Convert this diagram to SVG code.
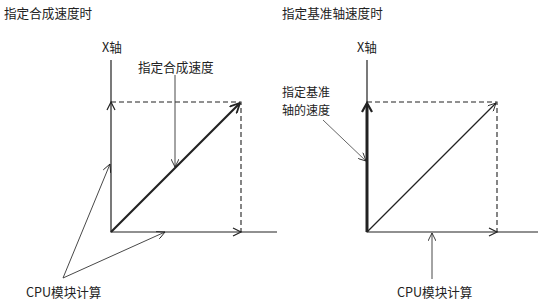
<svg xmlns="http://www.w3.org/2000/svg" width="541" height="308" viewBox="0 0 541 308">
<style>
text{font-family:"Noto Sans CJK SC","Noto Sans CJK JP",sans-serif;font-size:12.6px;fill:#222}
.sm{font-size:12px}
.ax{stroke:#222;stroke-width:1.2;fill:none}
.dash{stroke:#222;stroke-width:1.1;fill:none;stroke-dasharray:5,3}
.thin{stroke:#333;stroke-width:0.9;fill:none}
</style>
<defs>
<marker id="arr" viewBox="0 0 10 10" refX="10" refY="5" markerWidth="9" markerHeight="8" markerUnits="userSpaceOnUse" orient="auto">
<path d="M0,0 L10,5 L0,10" fill="none" stroke="#222" stroke-width="1.1"/>
</marker>
<marker id="arrT" viewBox="0 0 10 10" refX="10" refY="5" markerWidth="11" markerHeight="10" markerUnits="userSpaceOnUse" orient="auto">
<path d="M0,0 L10,5 L0,10" fill="none" stroke="#222" stroke-width="1.8"/>
</marker>
</defs>
<g id="title-left"><text x="4" y="18">指定合成速度时</text></g>
<g id="title-right"><text x="282" y="18">指定基准轴速度时</text></g>
<g id="label-x-left"><text x="102" y="52">X轴</text></g>
<g id="label-x-right"><text x="357" y="52">X轴</text></g>
<g id="label-speed"><text x="138" y="72">指定合成速度</text></g>
<g id="label-base"><text class="sm" x="282" y="97">指定基准</text><text class="sm" x="282" y="115">轴的速度</text></g>
<g id="label-cpu-left"><text x="26" y="297">CPU模块计算</text></g>
<g id="label-cpu-right"><text x="397" y="297">CPU模块计算</text></g>
<g id="connectors">
<path class="ax" d="M111,60 V232 H277"/>
<path class="dash" d="M111,102 H241 V232"/>
<path d="M111,232 L240,103" stroke="#222" stroke-width="2.2" fill="none" marker-end="url(#arrT)"/>
<path class="ax" d="M107,110 L111,102 L115,110"/>
<path class="ax" d="M233,228 L241,232 L233,236"/>
<path class="thin" d="M175,75 V167" marker-end="url(#arr)"/>
<path class="thin" d="M63,278 L110,164" marker-end="url(#arr)"/>
<path class="thin" d="M63,278 L165,232" marker-end="url(#arr)"/>
<path class="ax" d="M367,60 V232 H538"/>
<path d="M367,232 V104" stroke="#222" stroke-width="3" fill="none"/>
<path d="M362,112 L367,103 L372,112" stroke="#222" stroke-width="2.2" fill="none"/>
<path class="dash" d="M367,102 H497 V232"/>
<path d="M367,232 L496,103" stroke="#222" stroke-width="1.2" fill="none" marker-end="url(#arr)"/>
<path class="ax" d="M489,228 L497,232 L489,236"/>
<path d="M323,120 L366,161" stroke="#555" stroke-width="0.9" fill="none" marker-end="url(#arr)"/>
<path class="thin" d="M432,279 V233" marker-end="url(#arr)"/>
</g>
</svg>
